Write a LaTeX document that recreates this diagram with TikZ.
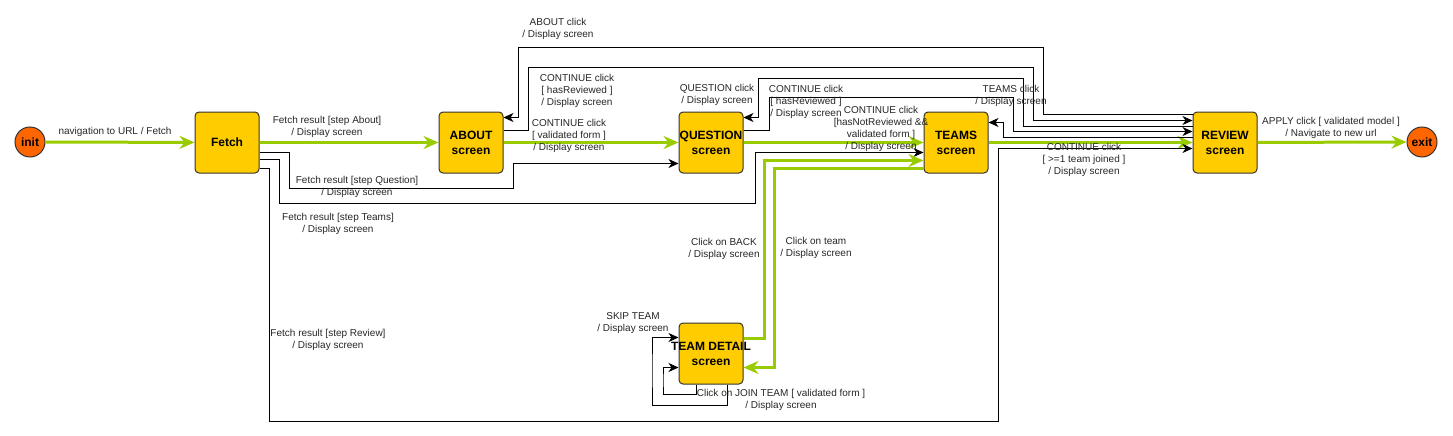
\documentclass[tikz,border=0pt]{standalone}
\usepackage{fontspec}
\setmainfont{Liberation Sans}
\usetikzlibrary{arrows.meta,calc}
\definecolor{gr}{HTML}{99CC00}
\definecolor{yel}{HTML}{FFCC00}
\definecolor{org}{HTML}{FF6600}
\definecolor{edge}{HTML}{333333}
\begin{document}
\begin{tikzpicture}[x=1pt,y=-1pt,
 state/.style={draw=edge, line width=1pt, fill=yel, rounded corners=4pt, minimum width=64pt, minimum height=61pt, align=center, font=\fontsize{12}{15}\selectfont\bfseries, inner sep=0pt},
 term/.style={circle, draw=edge, line width=1pt, fill=org, minimum size=30pt, inner sep=0pt, font=\fontsize{12}{14}\selectfont\bfseries},
 lbl/.style={align=center, font=\fontsize{10}{12}\selectfont, inner sep=0pt, text=black!85},
 blk/.style={draw=black, line width=1pt, -{Stealth[length=10pt,width=9pt,inset=3pt]}},
 grn/.style={draw=gr, line width=3pt, -{Stealth[length=15pt,width=13pt,inset=5pt]}},
]
\useasboundingbox (0,0) rectangle (1453,436);

% states
\node[term] (init) at (30,142) {init};
\node[state] (fetch) at (227,142.5) {Fetch};
\node[state] (about) at (471,142.5) {ABOUT\\screen};
\node[state] (question) at (711,142.5) {QUESTION\\screen};
\node[state] (teams) at (956,142.5) {TEAMS\\screen};
\node[state] (review) at (1225,142.5) {REVIEW\\screen};
\node[term] (exit) at (1422,142) {exit};
\node[state] (detail) at (711,353.5) {\makebox[0pt]{TEAM DETAIL}\\screen};

% main green flow
\draw[grn] (init) -- (fetch);
\draw[grn] (fetch) -- (about);
\draw[grn] (about) -- (question);
\draw[grn] (question) -- (teams);
\draw[grn] (teams) -- (review);
\draw[grn] (review) -- (exit);

% fetch results
\draw[blk] ([yshift=-10pt]fetch.east) -- ++(30,0) |- (513,188) |- ([yshift=-21pt]question.west);
\draw[blk] ([yshift=-17pt]fetch.east) -- ++(20,0) |- (755,203) |- ([yshift=-10pt]teams.west);
\draw[blk] ([yshift=-26pt]fetch.east) -- ++(10,0) |- (998,421) |- ([yshift=-6pt]review.west);

% review / about / question / teams loops
\draw[blk] ([yshift=28pt]review.west) -| (1043,48) -- (518,48) |- ([yshift=25pt]about.east);
\draw[blk] ([yshift=12pt]about.east) -| (528,68) -| (1033,100) |- ([yshift=22pt]review.west);
\draw[blk] ([yshift=16pt]review.west) -| (1023,78) -- (758,78) |- ([yshift=25pt]question.east);
\draw[blk] ([yshift=12pt]question.east) -| (769,97) -| (1013,110) |- ([yshift=11pt]review.west);
\draw[blk] ([yshift=5pt]review.west) -| (1003,130) |- ([yshift=20pt]teams.east);

% teams <-> team detail
\draw[grn] ([yshift=15pt]detail.east) -| (764,200) |- ([yshift=-18pt]teams.west);
\draw[grn] ([yshift=-26pt]teams.west) -| (774,300) |- ([yshift=-14pt]detail.east);

% self loops
\draw[blk] ([xshift=16pt]detail.south) -- ++(0,21) -| (652,370) |- ([yshift=16pt]detail.west);
\draw[blk] ([xshift=-15pt]detail.south) -- ++(0,10) -| (663,380) |- ([yshift=-14pt]detail.west);

% labels
\node[lbl] (l1) at (115,132) {navigation to URL / Fetch};
\node[lbl] (l2) at (327,127) {Fetch result [step About]\\/ Display screen};
\node[lbl] (l3) at (357,186.5) {Fetch result [step Question]\\/ Display screen};
\node[lbl] (l4) at (338,224) {Fetch result [step Teams]\\/ Display screen};
\node[lbl] (l5) at (328,339.5) {Fetch result [step Review]\\/ Display screen};
\node[lbl] (l6) at (569,135.5) {CONTINUE click\\{[} validated form ]\\/ Display screen};
\node[lbl] (l7) at (558,29) {ABOUT click\\/ Display screen};
\node[lbl] (l8) at (577,91) {CONTINUE click\\{[} hasReviewed ]\\/ Display screen};
\node[lbl] (l9) at (717,94.5) {QUESTION click\\/ Display screen};
\node[lbl] (l10) at (806,102) {CONTINUE click\\{[} hasReviewed ]\\/ Display screen};
\node[lbl] (l11) at (881,129) {CONTINUE click\\{[}hasNotReviewed \&\&\\validated form ]\\/ Display screen};
\node[lbl] (l12) at (1011,95.5) {TEAMS click\\/ Display screen};
\node[lbl] (l13) at (1084,159.5) {CONTINUE click\\{[} >=1 team joined ]\\/ Display screen};
\node[lbl] (l14) at (1331,127.5) {APPLY click [ validated model ]\\/ Navigate to new url};
\node[lbl] (l15) at (724,249) {Click on BACK\\/ Display screen};
\node[lbl] (l16) at (816,247.5) {Click on team\\/ Display screen};
\node[lbl] (l17) at (633,323.5) {SKIP TEAM\\/ Display screen};
\node[lbl] (l18) at (781,400) {Click on JOIN TEAM [ validated form ]\\/ Display screen};
\end{tikzpicture}
\end{document}
